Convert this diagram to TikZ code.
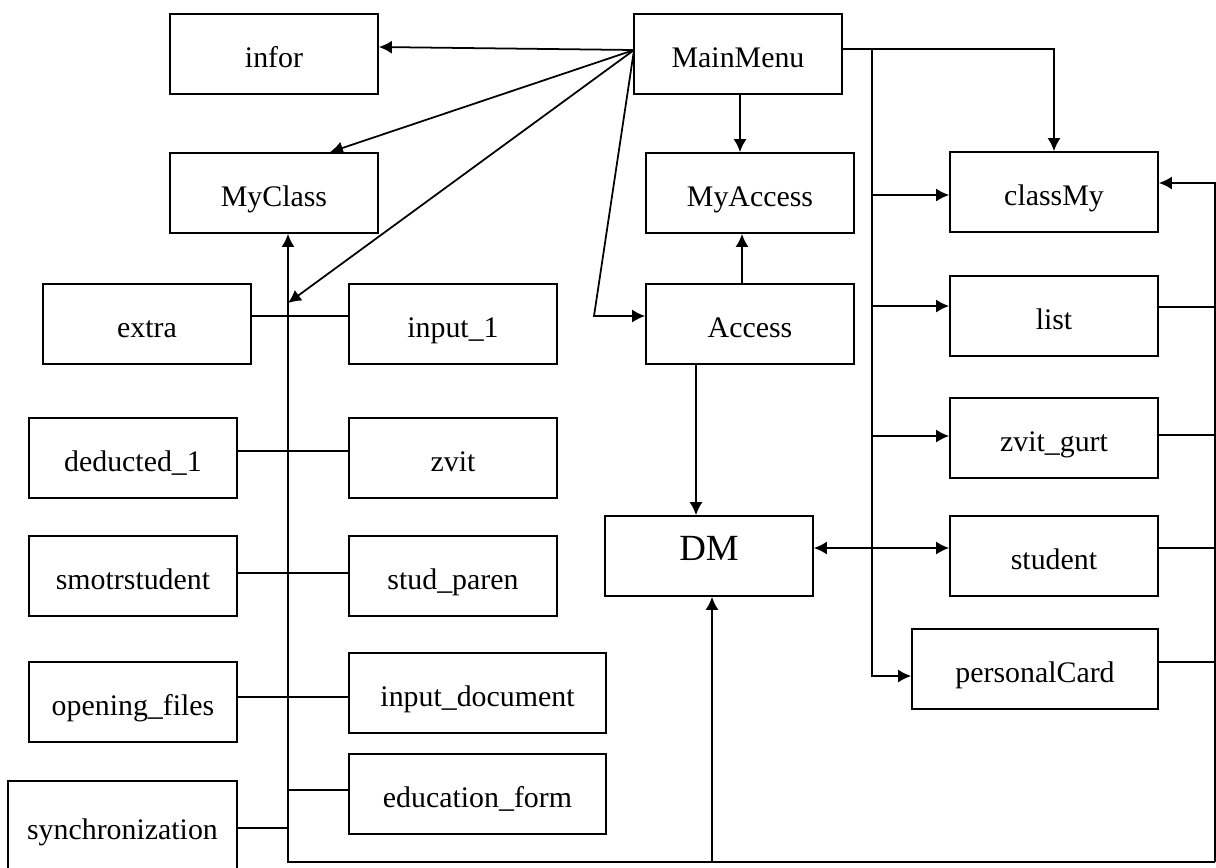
\documentclass[tikz,border=0pt]{standalone}
\usepackage{fontspec}
\setmainfont{Liberation Serif}
\usetikzlibrary{arrows.meta,positioning,calc}
\tikzset{
  modbox/.style={draw, line width=1pt, minimum width=4.16cm, minimum height=1.6cm, inner sep=2pt, text height=15.8pt, text depth=0pt, font=\fontsize{17}{20}\selectfont},
  widebox/.style={modbox, minimum width=5.14cm},
  cline/.style={-{Latex[length=2.6mm,width=2.6mm]}, line width=1pt},
  dline/.style={{Latex[length=2.6mm,width=2.6mm]}-{Latex[length=2.6mm,width=2.6mm]}, line width=1pt},
  pline/.style={line width=1pt},
}
\begin{document}
\begin{tikzpicture}[x=0.02cm, y=-0.02cm]
  \useasboundingbox (0,0) rectangle (1216,867);
  % modules
  \node[modbox] (infor) at (274,54) {infor};
  \node[modbox] (mainmenu) at (738,54) {MainMenu};
  \node[modbox] (myclass) at (274,193) {MyClass};
  \node[modbox] (myaccess) at (750,193) {MyAccess};
  \node[modbox] (classmy) at (1054,192) {classMy};
  \node[modbox] (extra) at (147,324) {extra};
  \node[modbox] (input1) at (453,324) {input\_1};
  \node[modbox] (access) at (750,324) {Access};
  \node[modbox] (list) at (1054,316) {list};
  \node[modbox] (deducted) at (133,458) {deducted\_1};
  \node[modbox] (zvit) at (453,458) {zvit};
  \node[modbox] (zvitgurt) at (1054,438) {zvit\_gurt};
  \node[modbox, font=\fontsize{21}{24}\selectfont, text height=13.9pt, text depth=8.3pt] (dm) at (709,556) {DM};
  \node[modbox] (student) at (1054,556) {student};
  \node[modbox] (smotr) at (133,576) {smotrstudent};
  \node[modbox] (studparen) at (453,576) {stud\_paren};
  \node[modbox, minimum width=4.92cm] (personal) at (1035,669) {personalCard};
  \node[modbox] (opening) at (133,702) {opening\_files};
  \node[widebox] (inputdoc) at (477.5,693) {input\_document};
  \node[widebox] (eduform) at (477.5,794) {education\_form};
  \node[modbox, minimum width=4.58cm, minimum height=1.8cm] (sync) at (122.5,826) {synchronization};

  % bus points
  \coordinate (fan) at (634,50);
  \coordinate (lbus) at (288,303);
  \coordinate (lbot) at (288,862);
  \coordinate (rbot) at (1215,862);
  \coordinate (rtop) at (1215,183);
  \coordinate (mbus) at (872,49);
  \coordinate (bend) at (594,316);

  % from MainMenu
  \draw[cline] (fan) -- (infor.east |- 0,47);
  \draw[cline] (fan) -- ($(myclass.north)+(56,0)$);
  \draw[cline] (fan) -- (lbus);
  \draw[cline] (fan) -- (bend) -- (access.west |- bend);
  \draw[cline] (mainmenu.south -| 740,0) -- (myaccess.north -| 740,0);
  \draw[cline] (access.north -| 742,0) -- (myaccess.south -| 742,0);
  \draw[cline] (access.south -| 696,0) -- (dm.north -| 696,0);
  \draw[cline] (mainmenu.east |- mbus) -| (classmy.north);

  % right side
  \draw[cline] (mbus) |- (personal.west |- 0,676);
  \foreach \n/\y in {classmy/195, list/306, zvitgurt/436}
    \draw[cline] (mbus |- 0,\y) -- (\n.west |- 0,\y);
  \draw[dline] (dm.east |- 0,548) -- (student.west |- 0,548);
  \draw[cline] (rbot) -- (rtop) -- (classmy.east |- rtop);
  \foreach \n/\y in {list/307, zvitgurt/435, student/548, personal/662}
    \draw[pline] (\n.east |- 0,\y) -- (rbot |- 0,\y);

  % bottom bus
  \draw[cline] (rbot) -- (lbot) -- (myclass.south -| lbot);
  \draw[cline] (rbot -| 712,0) -- (dm.south -| 712,0);

  % left side
  \foreach \a/\b/\y in {extra/input1/316, deducted/zvit/451, smotr/studparen/573, opening/inputdoc/697}
    \draw[pline] (\a.east |- 0,\y) -- (\b.west |- 0,\y);
  \draw[pline] (eduform.west |- 0,790) -- (lbot |- 0,790);
  \draw[pline] (sync.east |- 0,828) -- (lbot |- 0,828);
\end{tikzpicture}
\end{document}
